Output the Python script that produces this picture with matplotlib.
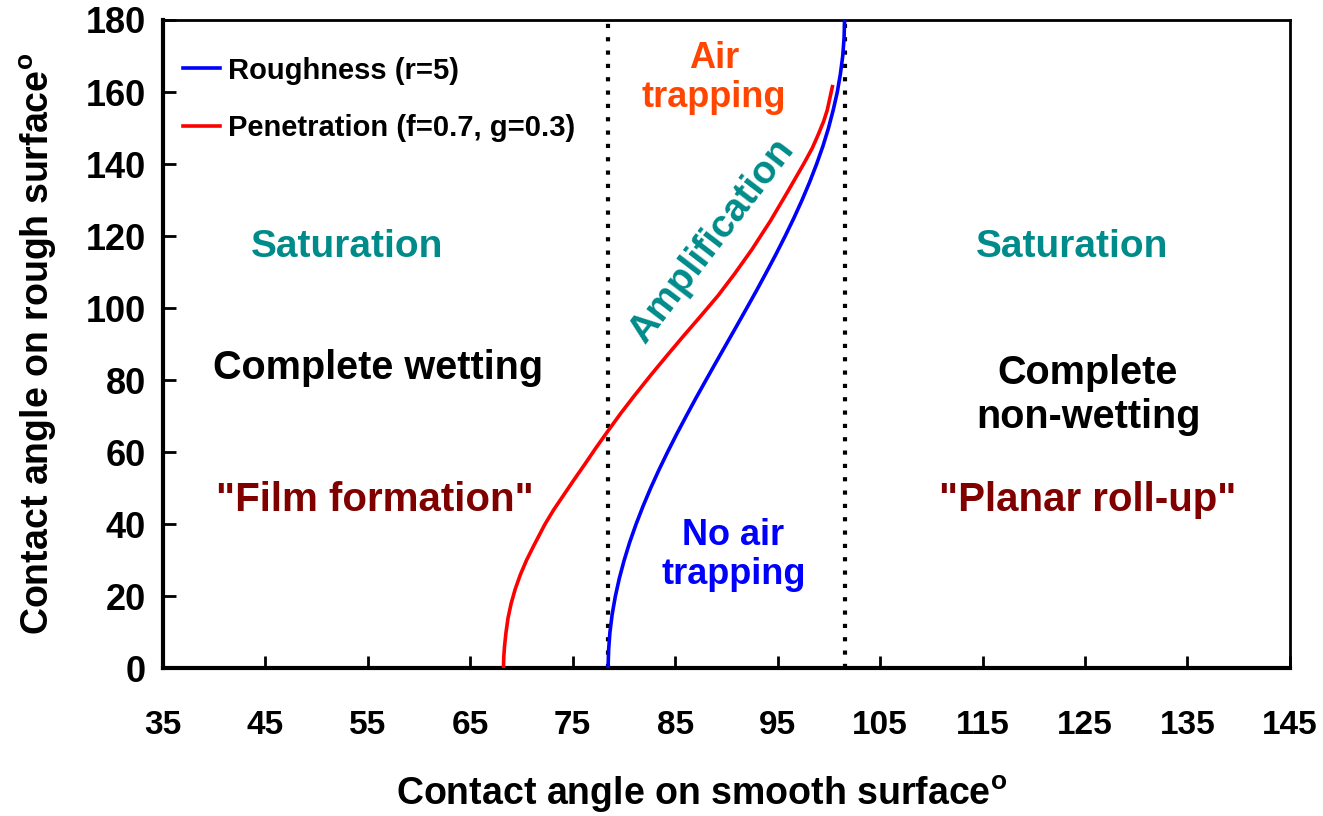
import matplotlib
matplotlib.use("Agg")
import matplotlib.pyplot as plt

# roughness curve (r=5)
rough_y = [0, 5, 10, 15, 20, 25, 30, 35, 40, 45, 50, 55, 60, 65, 70, 75, 80, 85, 90,
           95, 100, 105, 110, 115, 120, 125, 130, 135, 140, 145, 150, 155, 160, 165,
           170, 175, 180]
rough_x = [78.46, 78.51, 78.64, 78.86, 79.17, 79.56, 80.03, 80.57, 81.19, 81.87, 82.61,
           83.41, 84.26, 85.15, 86.08, 87.03, 88.01, 89.00, 90.00, 91.00, 91.99, 92.97,
           93.92, 94.85, 95.74, 96.59, 97.39, 98.13, 98.81, 99.43, 99.97, 100.43, 100.83,
           101.13, 101.36, 101.49, 101.54]

# penetration curve (f=0.7, g=0.3)
pen_x = [68.25, 68.28, 68.35, 68.5, 68.7, 69.0, 69.4, 69.9, 70.5, 71.2, 72.3, 73.15,
         74.1, 75.1, 76.2, 77.3, 78.5, 79.7, 81.0, 82.6, 84.2, 85.8, 87.5, 89.2, 90.8,
         92.5, 94.3, 96.0, 97.6, 98.4, 99.0, 99.5, 99.85, 100.35]
pen_y = [0, 3, 6, 10, 14, 18, 22, 26, 30, 34, 40, 44, 48, 52.2, 56.7, 61.3, 66.1,
         70.8, 75.6, 81.3, 86.8, 92.2, 97.8, 103.5, 109.5, 116.3, 124.2, 132.4, 140.3,
         144.5, 148.4, 151.9, 155, 161.5]

boundaries = [78.46, 101.54]
x_ticks = [35, 45, 55, 65, 75, 85, 95, 105, 115, 125, 135, 145]
y_ticks = [0, 20, 40, 60, 80, 100, 120, 140, 160, 180]

plt.rcParams['font.family'] = ['Liberation Sans', 'DejaVu Sans']
plt.rcParams['font.weight'] = 'bold'
plt.rcParams['mathtext.fontset'] = 'custom'
plt.rcParams['mathtext.rm'] = 'Liberation Sans:bold'
plt.rcParams['mathtext.bf'] = 'Liberation Sans:bold'

fig = plt.figure(figsize=(13.23, 8.16), dpi=100)
ax = fig.add_axes([0.123, 0.181, 0.852, 0.7945])

for b in boundaries:
    ax.plot([b, b], [0, 180], color='black', lw=3, dashes=(1, 2.2), zorder=1)

ax.plot(rough_x, rough_y, color='#0000FF', lw=2.6, label='Roughness (r=5)', zorder=3)
ax.plot(pen_x, pen_y, color='#FF0000', lw=2.6, label='Penetration (f=0.7, g=0.3)', zorder=3)

ax.set_xlim(35, 145)
ax.set_ylim(0, 180)
ax.set_xticks(x_ticks)
ax.set_yticks(y_ticks)
ax.tick_params(direction='in', length=9, width=2, colors='black')
ax.tick_params(axis='x', pad=30)
ax.tick_params(axis='y', pad=12)
for lab in ax.get_xticklabels():
    lab.set_fontsize(24)
    lab.set_fontweight('bold')
for lab in ax.get_yticklabels():
    lab.set_fontsize(26)
    lab.set_fontweight('bold')

for side in ['left', 'bottom']:
    ax.spines[side].set_linewidth(3)
for side in ['top', 'right']:
    ax.spines[side].set_linewidth(2)

ax.set_xlabel(r'Contact angle on smooth surface$^{\mathbf{o}}$', fontsize=27,
              fontweight='bold')
ax.xaxis.set_label_coords(0.478, -0.163)
ax.set_ylabel(r'Contact angle on rough surface$^{\mathbf{o}}$', fontsize=27,
              fontweight='bold')
ax.yaxis.set_label_coords(-0.092, 0.5)

teal = '#008B8B'
maroon = '#800000'
kw = dict(ha='center', va='center', fontweight='bold')
ax.text(53.0, 117, 'Saturation', color=teal, fontsize=28, **kw)
ax.text(56.0, 83.3, 'Complete wetting', color='black', fontsize=28.5, **kw)
ax.text(55.7, 46.7, '"Film formation"', color=maroon, fontsize=29, **kw)
ax.text(123.7, 117, 'Saturation', color=teal, fontsize=28, **kw)
ax.text(125.3, 75.8, 'Complete\nnon-wetting', color='black', fontsize=28.5,
        linespacing=1.2, **kw)
ax.text(125.3, 46.7, '"Planar roll-up"', color=maroon, fontsize=29, **kw)
ax.text(88.8, 164, 'Air\ntrapping', color='#FF4500', fontsize=26, linespacing=1.15, **kw)
ax.text(90.7, 31.4, 'No air\ntrapping', color='#0000FF', fontsize=26, linespacing=1.15, **kw)
ax.text(88.6, 118.5, 'Amplification', color=teal, fontsize=28, rotation=52.5,
        rotation_mode='anchor', **kw)

leg = ax.legend(loc='upper left', frameon=False, fontsize=21, handlelength=1.25,
                handletextpad=0.3, labelspacing=1.0, borderaxespad=0.3,
                bbox_to_anchor=(0.0, 0.975))
for t in leg.get_texts():
    t.set_fontweight('bold')

fig.savefig('out.png', dpi=100)
